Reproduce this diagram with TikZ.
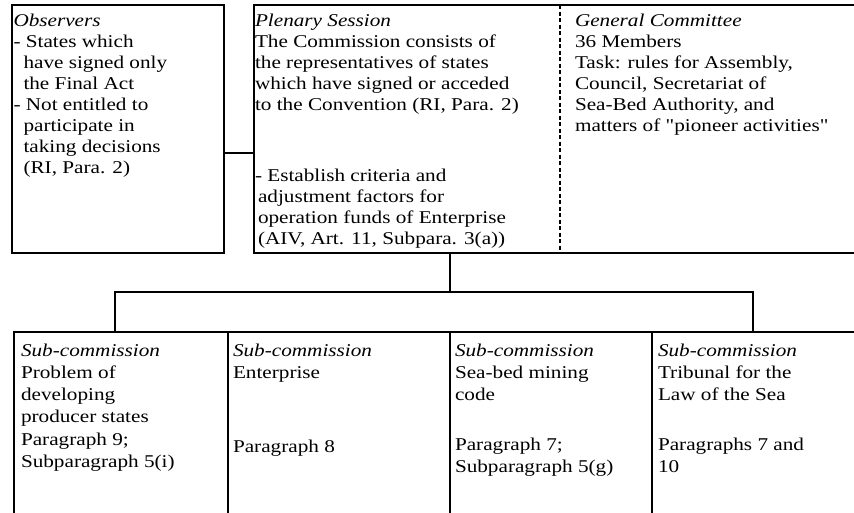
\documentclass[tikz,border=0pt]{standalone}
\usepackage{fontspec}
\setmainfont{Liberation Serif}[FakeStretch=1.178]
\newfontfamily\plainq{Liberation Serif}[FakeStretch=1.178]
\tikzset{
  box/.style={draw, line width=1.6pt, inner sep=0pt, outer sep=0pt, anchor=north west},
  txt/.style={anchor=north west, inner sep=0pt, outer sep=0pt, align=left, font=\fontsize{18}{21}\selectfont},
  btxt/.style={txt, font=\fontsize{18}{22.3}\selectfont},
  link/.style={line width=1.6pt},
  dotline/.style={line width=2.2pt, dash pattern=on 4pt off 2.5pt},
}
\begin{document}
\begin{tikzpicture}[x=1pt, y=-1pt]
\useasboundingbox (0,0) rectangle (854,512);
% boxes
\node[box, minimum width=212pt, minimum height=248pt] (obs) at (12,5) {};
\node[box, minimum width=620pt, minimum height=248pt] (plen) at (254,5) {};
\node[box, minimum width=214pt, minimum height=200pt] (sub1) at (14,332) {};
\node[box, minimum width=222pt, minimum height=200pt] (sub2) at (228,332) {};
\node[box, minimum width=202pt, minimum height=200pt] (sub3) at (450,332) {};
\node[box, minimum width=220pt, minimum height=200pt] (sub4) at (652,332) {};
% coordinates for connectors
\coordinate (cy) at (0,153);
\coordinate (gx) at (560,0);
\coordinate (j) at (450,292);
\coordinate (jl) at (115,292);
\coordinate (jr) at (753,292);
% connectors
\draw[dotline] (plen.north -| gx) -- (plen.south -| gx);
\draw[link] (obs.east |- cy) -- (plen.west |- cy);
\draw[link] (plen.south -| j) -- (j);
\draw[link] (sub1.north -| jl) -- (jl) -- (jr) -- (sub4.north -| jr);
% texts
\node[txt] (tobs) at (13.5,11.3) {\strut\textit{Observers}\\- States which\\\hspace*{10pt}have signed only\\\hspace*{10pt}the Final Act\\- Not entitled to\\\hspace*{10pt}participate in\\\hspace*{10pt}taking decisions\\\hspace*{10pt}(RI, Para. 2)};
\node[txt] (tplen) at (255,11.3) {\strut\textit{Plenary Session}\\The Commission consists of\\the representatives of states\\which have signed or acceded\\to the Convention (RI, Para. 2)\\[50pt]- Establish criteria and\\\hspace*{3pt}adjustment factors for\\\hspace*{3pt}operation funds of Enterprise\\\hspace*{3pt}(AIV, Art. 11, Subpara. 3(a))};
\node[txt] (tgen) at (575,11.3) {\strut\textit{General Committee}\\36 Members\\Task: rules for Assembly,\\Council, Secretariat of\\Sea-Bed Authority, and\\matters of {\plainq"}pioneer activities{\plainq"}};
\node[btxt] (ts1) at (21,340.4) {\strut\textit{Sub-commission}\\Problem of\\developing\\producer states\\Paragraph 9;\\Subparagraph 5(i)};
\node[btxt] (ts2) at (233,340.4) {\strut\textit{Sub-commission}\\Enterprise\\[51.7pt]Paragraph 8};
\node[btxt] (ts3) at (455,340.4) {\strut\textit{Sub-commission}\\Sea-bed mining\\code\\[27.7pt]Paragraph 7;\\Subparagraph 5(g)};
\node[btxt] (ts4) at (658,340.4) {\strut\textit{Sub-commission}\\Tribunal for the\\Law of the Sea\\[27.7pt]Paragraphs 7 and\\10};
\end{tikzpicture}
\end{document}
